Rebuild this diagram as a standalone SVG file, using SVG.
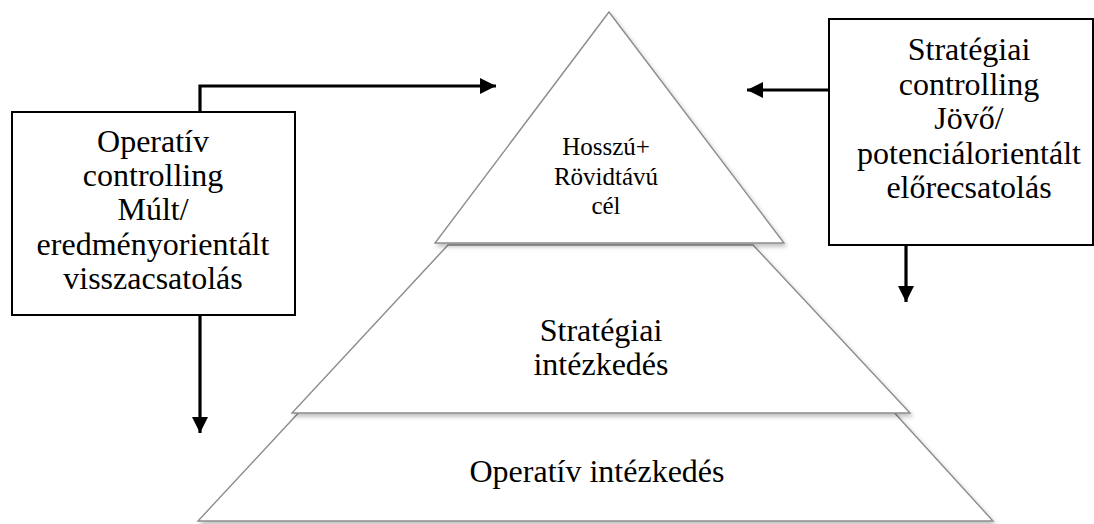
<svg xmlns="http://www.w3.org/2000/svg" width="1094" height="524" viewBox="0 0 1094 524">
  <style>
    .t { font-family: 'Liberation Serif', serif; fill: #000; text-anchor: middle; }
    .big { font-size: 32px; }
    .small { font-size: 25px; }
    .slice { fill: #fff; stroke: #8c8c8c; stroke-width: 1.4; filter: url(#sh); }
    .box { fill: #fff; stroke: #000; stroke-width: 2; }
    .conn { fill: none; stroke: #000; stroke-width: 3.2; marker-end: url(#ah); }
  </style>
  <defs>
    <filter id="sh" x="-5%" y="-5%" width="112%" height="115%">
      <feDropShadow dx="2" dy="3" stdDeviation="2" flood-color="#000" flood-opacity="0.25"/>
    </filter>
    <marker id="ah" viewBox="0 0 10 10" refX="10" refY="5" markerUnits="userSpaceOnUse" markerWidth="17" markerHeight="16" orient="auto">
      <path d="M0,0 L10,5 L0,10 Z" fill="#000"/>
    </marker>
  </defs>
  <rect width="1094" height="524" fill="#fff"/>

  <g id="slice-bottom" font-family="Liberation Serif, serif">
    <polygon class="slice" points="303,408 890,408 993,521 198,521"/>
    <text class="t big" x="597" y="482">Operatív intézkedés</text>
  </g>
  <g id="slice-middle" font-family="Liberation Serif, serif">
    <polygon class="slice" points="448,245 753,245 910,413 292,413"/>
    <text class="t big" x="601" y="341">Stratégiai</text>
    <text class="t big" x="601" y="375">intézkedés</text>
  </g>
  <g id="slice-top" font-family="Liberation Serif, serif">
    <polygon class="slice" points="609,12 784,243 435,243"/>
    <text class="t small" x="606" y="155">Hosszú+</text>
    <text class="t small" x="606" y="185">Rövidtávú</text>
    <text class="t small" x="606" y="214">cél</text>
  </g>

  <g id="box-operativ" font-family="Liberation Serif, serif">
    <rect class="box" x="12" y="112" width="283" height="203"/>
    <text class="t big" x="153" y="152">Operatív</text>
    <text class="t big" x="153" y="186">controlling</text>
    <text class="t big" x="153" y="220">Múlt/</text>
    <text class="t big" x="153" y="255">eredményorientált</text>
    <text class="t big" x="153" y="289">visszacsatolás</text>
  </g>
  <g id="box-strategiai" font-family="Liberation Serif, serif">
    <rect class="box" x="829" y="19" width="264" height="226"/>
    <text class="t big" x="969" y="60">Stratégiai</text>
    <text class="t big" x="969" y="95">controlling</text>
    <text class="t big" x="969" y="129">Jövő/</text>
    <text class="t big" x="969" y="164">potenciálorientált</text>
    <text class="t big" x="969" y="198">előrecsatolás</text>
  </g>

  <g id="connectors">
    <path class="conn" d="M200,112 V86 H496"/>
    <path class="conn" d="M200,315 V433"/>
    <path class="conn" d="M829,90 H747"/>
    <path class="conn" d="M906,245 V302"/>
  </g>
</svg>
